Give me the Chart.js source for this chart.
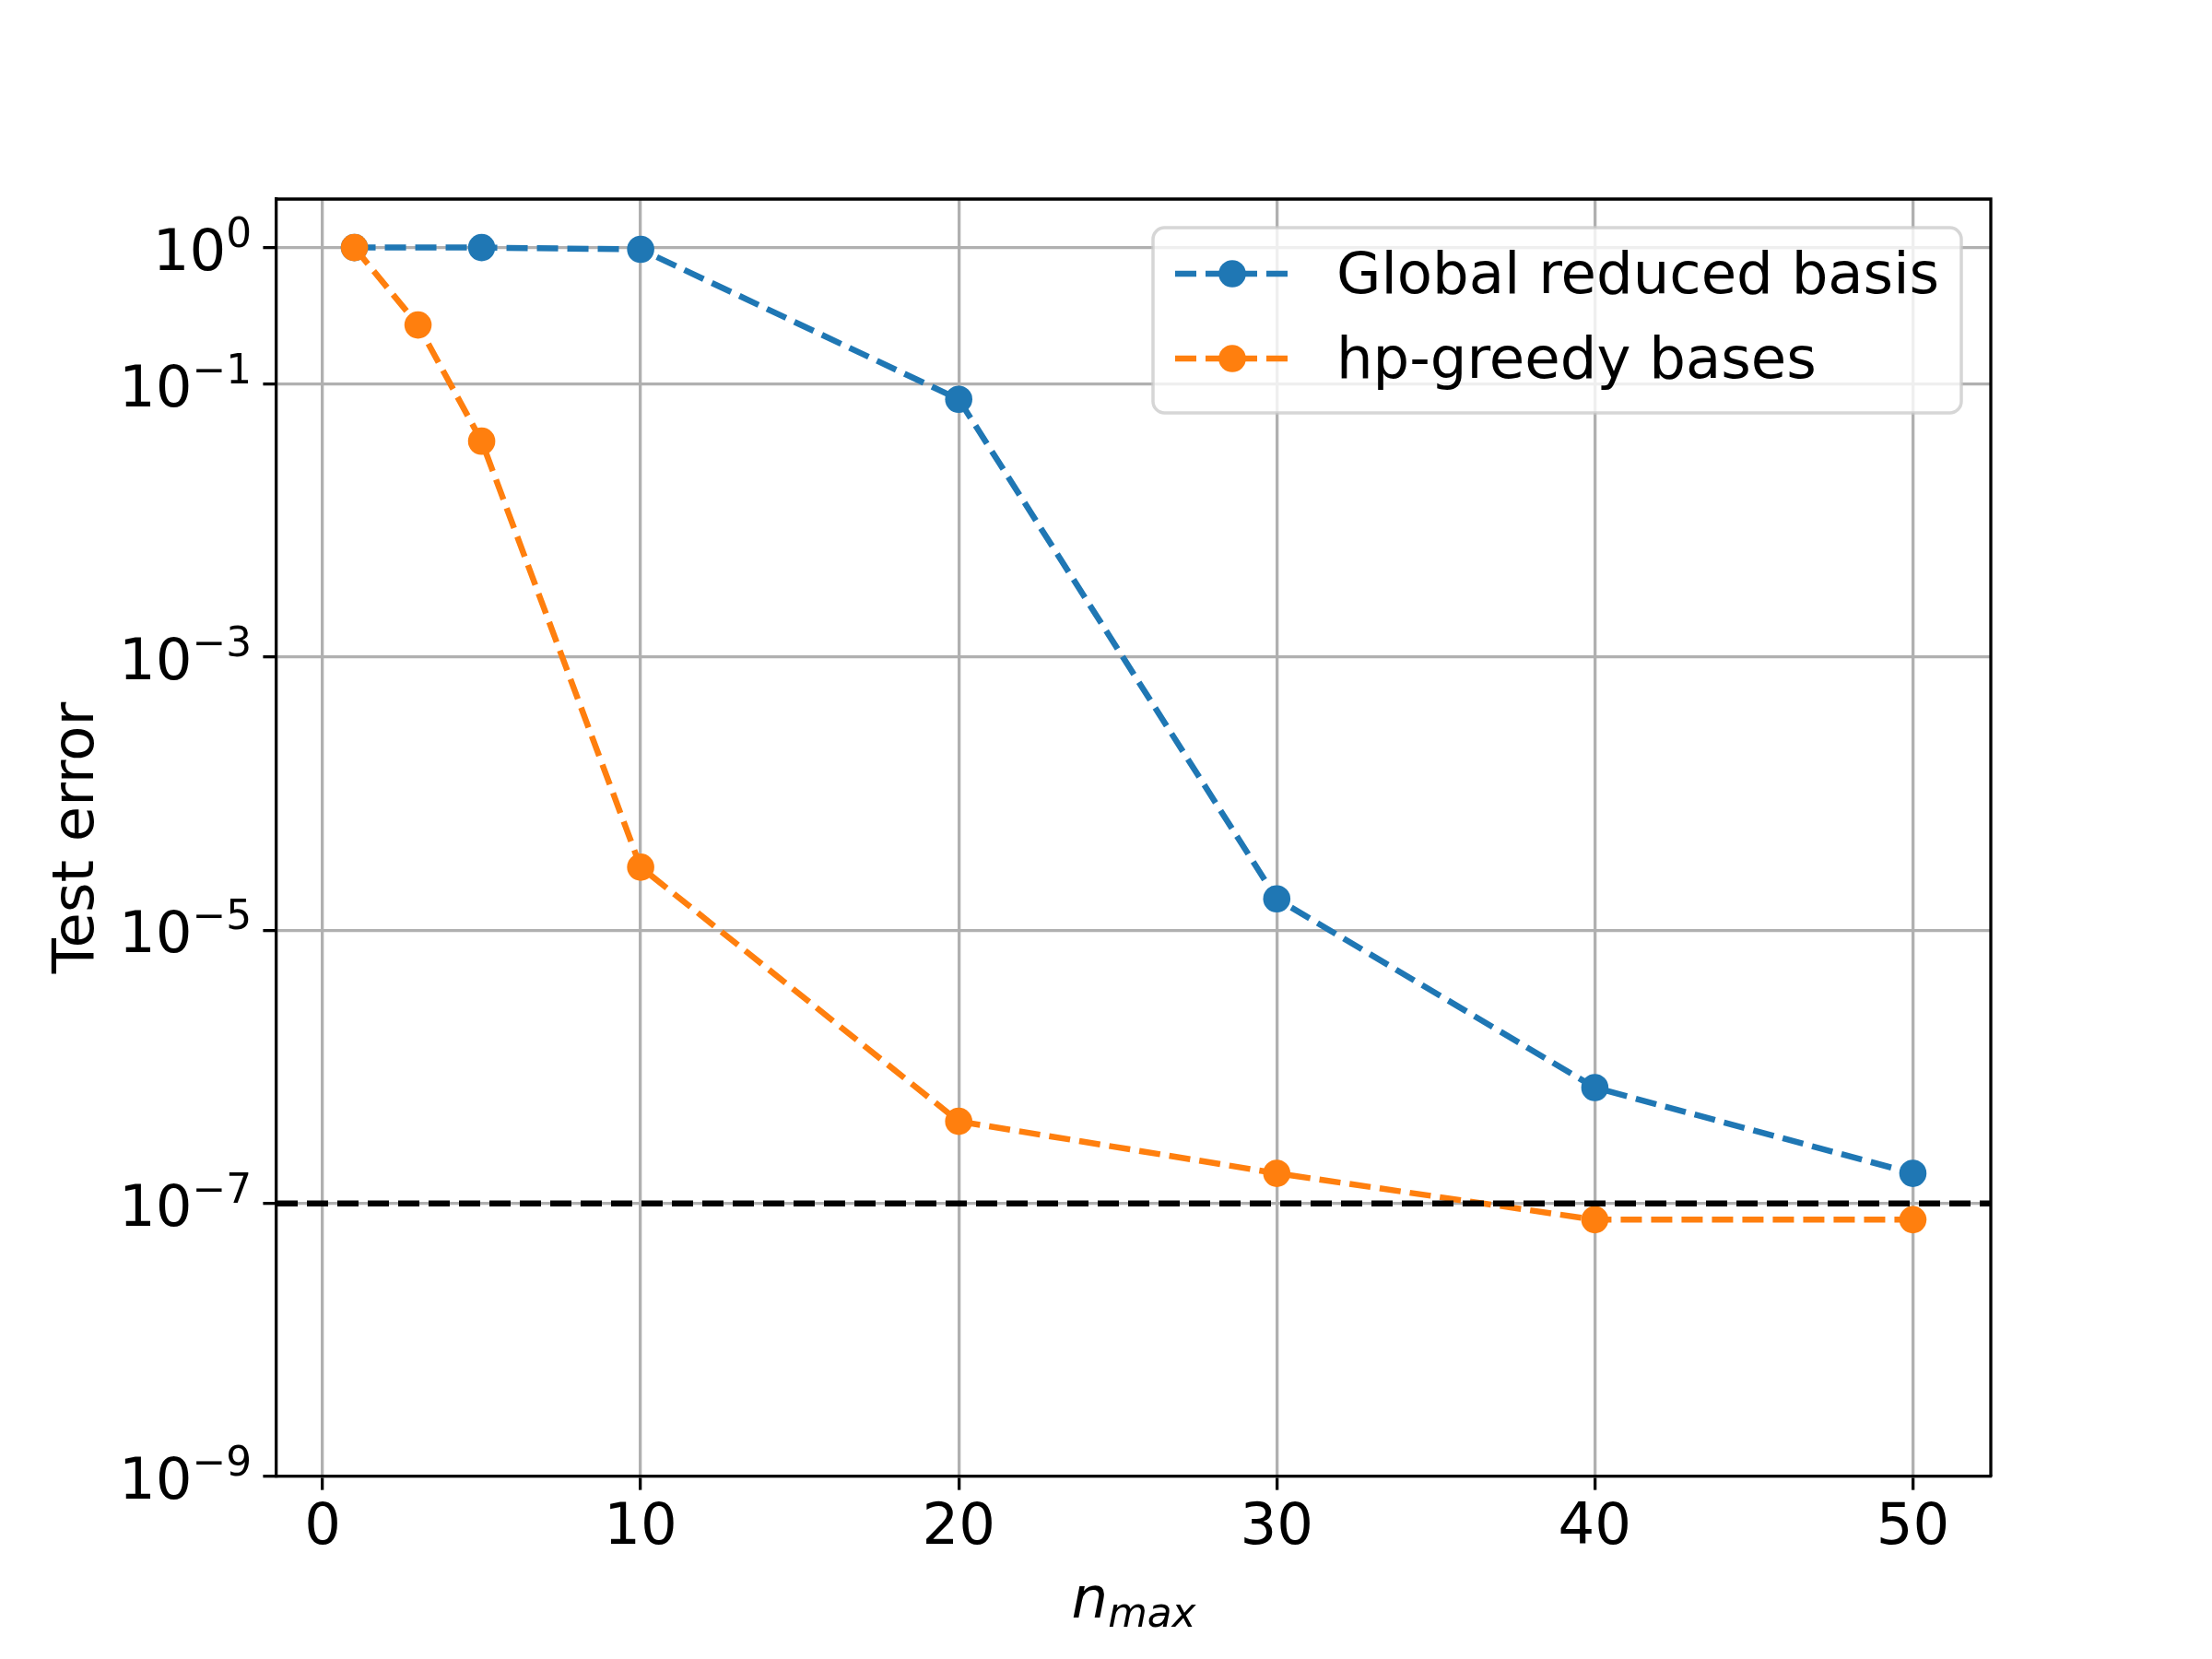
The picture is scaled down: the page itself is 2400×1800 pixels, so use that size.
<!DOCTYPE html>
<html>
<head>
<meta charset="utf-8">
<script src="https://cdn.jsdelivr.net/npm/chart.js@4.4.1/dist/chart.umd.min.js"></script>
<style>
  html, body { margin: 0; padding: 0; background: #fff; }
  #wrap { width: 2400px; height: 1800px; }
</style>
</head>
<body>
<div id="wrap"><canvas id="errChart" width="2400" height="1800"></canvas></div>
<script>
// values
const N_GLOBAL = [1, 5, 10, 20, 30, 40, 50];
const ERR_GLOBAL = [1.0, 1.0, 0.97, 0.0774, 1.70e-5, 7.05e-7, 1.66e-7];
const N_HP = [1, 3, 5, 10, 20, 30, 40, 50];
const ERR_HP = [1.0, 0.271, 0.0382, 2.90e-5, 3.99e-7, 1.66e-7, 7.6e-8, 7.6e-8];
const THRESHOLD = 1e-7;

const X_TICKS = [0, 10, 20, 30, 40, 50];
const Y_TICKS = [1, 1e-1, 1e-3, 1e-5, 1e-7, 1e-9];
const X_MIN = -1.45, X_MAX = 52.45;
const Y_MIN = 1e-9, Y_MAX = Math.pow(10, 0.355);

const LABELS = ['Global reduced basis', 'hp-greedy bases'];
const COLORS = ['#1f77b4', '#ff7f0e'];

const FONT = 'DejaVu Sans';
const FS = 62.5;
const LW = 6.5;
const DASH = [23, 10];

function toPoints(xs, ys) {
  return xs.map((x, i) => ({ x, y: ys[i] }));
}

function seriesStyle(color) {
  return {
    borderColor: color,
    backgroundColor: color,
    borderWidth: LW,
    borderDash: DASH,
    pointRadius: 14.8,
    pointBorderWidth: 0,
    pointBackgroundColor: color,
    fill: false,
    tension: 0
  };
}

// spines, y tick labels, axis titles and legend
const decorPlugin = {
  id: 'decor',
  afterDraw(chart) {
    const ctx = chart.ctx;
    const area = chart.chartArea;
    const yScale = chart.scales.y;

    ctx.save();
    ctx.strokeStyle = '#000';
    ctx.lineWidth = 3.3;
    ctx.setLineDash([]);
    ctx.beginPath();
    ctx.moveTo(area.left, area.top);
    ctx.lineTo(area.right, area.top);
    ctx.lineTo(area.right, area.bottom);
    ctx.stroke();

    // y tick labels as 10^e
    ctx.fillStyle = '#000';
    ctx.textAlign = 'right';
    ctx.textBaseline = 'alphabetic';
    Y_TICKS.forEach(v => {
      const py = yScale.getPixelForValue(v);
      const e = Math.round(Math.log10(v));
      const expText = e < 0 ? '\u2212' + Math.abs(e) : String(e);
      ctx.font = (FS * 0.7) + 'px "' + FONT + '"';
      const expW = ctx.measureText(expText).width;
      const right = area.left - 27;
      ctx.fillText(expText, right, py - 1);
      ctx.font = FS + 'px "' + FONT + '"';
      ctx.fillText('10', right - expW, py + 24);
    });

    // y title
    ctx.save();
    ctx.translate(101, (area.top + area.bottom) / 2);
    ctx.rotate(-Math.PI / 2);
    ctx.textAlign = 'center';
    ctx.font = FS + 'px "' + FONT + '"';
    ctx.fillText('Test error', 0, 0);
    ctx.restore();

    // x title n_max
    ctx.font = 'italic ' + FS + 'px "' + FONT + '"';
    const nW = ctx.measureText('n').width;
    ctx.font = 'italic ' + (FS * 0.7) + 'px "' + FONT + '"';
    const subW = ctx.measureText('max').width;
    const cx = (area.left + area.right) / 2;
    const x0 = cx - (nW + subW) / 2;
    ctx.textAlign = 'left';
    ctx.font = 'italic ' + FS + 'px "' + FONT + '"';
    ctx.fillText('n', x0, 1755);
    ctx.font = 'italic ' + (FS * 0.7) + 'px "' + FONT + '"';
    ctx.fillText('max', x0 + nW, 1765);

    // legend
    const box = { x: 1251, y: 247, w: 877, h: 201 };
    ctx.beginPath();
    ctx.roundRect(box.x, box.y, box.w, box.h, 12.5);
    ctx.fillStyle = 'rgba(255,255,255,0.8)';
    ctx.fill();
    ctx.strokeStyle = 'rgba(204,204,204,0.8)';
    ctx.lineWidth = 3.5;
    ctx.stroke();

    const rows = [297, 389];
    chart.data.datasets.filter(ds => LABELS.includes(ds.label)).forEach((ds, i) => {
      const ry = rows[i];
      ctx.strokeStyle = ds.borderColor;
      ctx.lineWidth = LW;
      ctx.setLineDash(DASH);
      ctx.beginPath();
      ctx.moveTo(1275, ry);
      ctx.lineTo(1398, ry);
      ctx.stroke();
      ctx.setLineDash([]);
      ctx.fillStyle = ds.borderColor;
      ctx.beginPath();
      ctx.arc(1337, ry, 14.8, 0, Math.PI * 2);
      ctx.fill();
      ctx.fillStyle = '#000';
      ctx.font = FS + 'px "' + FONT + '"';
      ctx.textAlign = 'left';
      ctx.fillText(ds.label, 1450, ry + 21);
    });
    ctx.restore();
  }
};

Chart.defaults.font.family = FONT;
Chart.defaults.color = '#000';

new Chart(document.getElementById('errChart'), {
  type: 'line',
  data: {
    datasets: [
      Object.assign({ label: LABELS[0], data: toPoints(N_GLOBAL, ERR_GLOBAL), order: 2 }, seriesStyle(COLORS[0])),
      Object.assign({ label: LABELS[1], data: toPoints(N_HP, ERR_HP), order: 1 }, seriesStyle(COLORS[1])),
      {
        label: 'threshold',
        data: [{ x: X_MIN, y: THRESHOLD }, { x: X_MAX, y: THRESHOLD }],
        borderColor: '#000',
        borderWidth: LW,
        borderDash: DASH,
        pointRadius: 0,
        fill: false,
        order: 0
      }
    ]
  },
  options: {
    responsive: false,
    animation: false,
    devicePixelRatio: 1,
    layout: { padding: { left: 0, right: 240, top: 216, bottom: 0 } },
    plugins: {
      legend: { display: false },
      tooltip: { enabled: false }
    },
    scales: {
      x: {
        type: 'linear',
        min: X_MIN,
        max: X_MAX,
        afterBuildTicks: axis => { axis.ticks = X_TICKS.map(v => ({ value: v })); },
        afterFit: axis => { axis.height = 198; },
        ticks: {
          font: { size: FS },
          color: '#000',
          padding: 5,
          maxRotation: 0,
          autoSkip: false
        },
        grid: {
          color: '#b0b0b0',
          lineWidth: 3.3,
          drawTicks: true,
          tickLength: 14.6,
          tickColor: '#000',
          tickWidth: 3.3
        },
        border: { display: true, color: '#000', width: 3.3 }
      },
      y: {
        type: 'logarithmic',
        min: Y_MIN,
        max: Y_MAX,
        afterBuildTicks: axis => { axis.ticks = Y_TICKS.map(v => ({ value: v })); },
        afterFit: axis => { axis.width = 300; },
        ticks: { display: false },
        grid: {
          color: '#b0b0b0',
          lineWidth: 3.3,
          drawTicks: true,
          tickLength: 14.6,
          tickColor: '#000',
          tickWidth: 3.3
        },
        border: { display: true, color: '#000', width: 3.3 }
      }
    }
  },
  plugins: [decorPlugin]
});
</script>
</body>
</html>
